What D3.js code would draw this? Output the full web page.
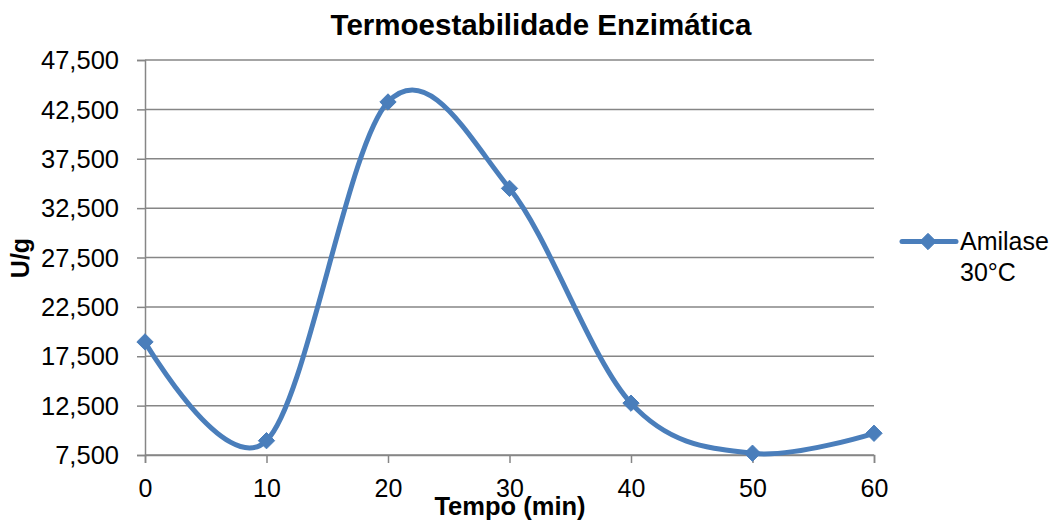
<!DOCTYPE html>
<html>
<head>
<meta charset="utf-8">
<script src="https://cdn.jsdelivr.net/npm/d3@7/dist/d3.min.js"></script>
<style>
  html, body { margin: 0; padding: 0; background: #fff; }
  svg { display: block; font-family: "Liberation Sans", Arial, sans-serif; }
</style>
</head>
<body>
<svg id="chart" width="1056" height="520"></svg>
<script>
const times = [0, 10, 20, 30, 40, 50, 60];
const amilase30 = [18950, 8950, 43250, 34500, 12750, 7680, 9700];
const yTicks = [7500, 12500, 17500, 22500, 27500, 32500, 37500, 42500, 47500];
const xTicks = [0, 10, 20, 30, 40, 50, 60];
const seriesName = ["Amilase", "30°C"];
const title = "Termoestabilidade Enzimática";
const xTitle = "Tempo (min)";
const yTitle = "U/g";

const svg = d3.select("#chart");
const x = d3.scaleLinear().domain([0, 60]).range([145, 874]);
const y = d3.scaleLinear().domain([7500, 47500]).range([455, 60]);
const blue = "#4a7ebb";
const gray = "#868686";

// gridlines
svg.append("g").selectAll("line").data(yTicks).join("line")
  .attr("x1", x(0)).attr("x2", x(60))
  .attr("y1", d => y(d)).attr("y2", d => y(d))
  .attr("stroke", gray).attr("stroke-width", 1.5);

// y axis
const yAxis = svg.append("g").attr("transform", `translate(${x(0)},0)`)
  .call(d3.axisLeft(y).tickValues(yTicks).tickSize(8).tickPadding(18)
    .tickFormat(d3.format(",")));
yAxis.select(".domain").attr("stroke", gray).attr("stroke-width", 1.5);
yAxis.selectAll(".tick line").attr("stroke", gray).attr("stroke-width", 1.5);
yAxis.selectAll(".tick text").attr("font-size", 25.5).attr("fill", "#000")
  .attr("font-family", "Liberation Sans, Arial, sans-serif").attr("dy", "0.34em");

// x axis
const xAxis = svg.append("g").attr("transform", `translate(0,${y(7500)})`)
  .call(d3.axisBottom(x).tickValues(xTicks).tickSize(8).tickPadding(16)
    .tickFormat(d3.format("d")));
xAxis.select(".domain").attr("stroke", gray).attr("stroke-width", 1.5);
xAxis.selectAll(".tick line").attr("stroke", gray).attr("stroke-width", 1.5);
xAxis.selectAll(".tick text").attr("font-size", 25).attr("fill", "#000")
  .attr("font-family", "Liberation Sans, Arial, sans-serif");

// line
const data = times.map((t, i) => ({t, v: amilase30[i]}));
const line = d3.line().x(d => x(d.t)).y(d => y(d.v)).curve(d3.curveCardinal.tension(0));
svg.append("path").datum(data).attr("d", line)
  .attr("fill", "none").attr("stroke", blue).attr("stroke-width", 5)
  .attr("stroke-linecap", "round");

const diamond = d3.symbol().type(d3.symbolDiamond2).size(170);
svg.append("g").selectAll("path").data(data).join("path")
  .attr("d", diamond)
  .attr("transform", d => `translate(${x(d.t)},${y(d.v)})`)
  .attr("fill", blue).attr("stroke", blue).attr("stroke-width", 1);

// titles
svg.append("text").attr("x", 541).attr("y", 35).attr("text-anchor", "middle")
  .attr("font-size", 29.5).attr("font-weight", "bold").text(title);
svg.append("text").attr("x", 510).attr("y", 515).attr("text-anchor", "middle")
  .attr("font-size", 25.5).attr("font-weight", "bold").text(xTitle);
svg.append("text").attr("transform", "translate(29,258) rotate(-90)")
  .attr("text-anchor", "middle").attr("font-size", 25).attr("font-weight", "bold").text(yTitle);

// legend
const lg = svg.append("g");
lg.append("line").attr("x1", 902).attr("x2", 956).attr("y1", 241.5).attr("y2", 241.5)
  .attr("stroke", blue).attr("stroke-width", 5).attr("stroke-linecap", "round");
lg.append("path").attr("d", diamond).attr("transform", "translate(928,241.5)")
  .attr("fill", blue).attr("stroke", blue).attr("stroke-width", 1);
lg.selectAll("text").data(seriesName).join("text")
  .attr("x", 960).attr("y", (d, i) => 249.5 + i * 31.5)
  .attr("font-size", 25).attr("fill", "#000").text(d => d);
</script>
</body>
</html>
